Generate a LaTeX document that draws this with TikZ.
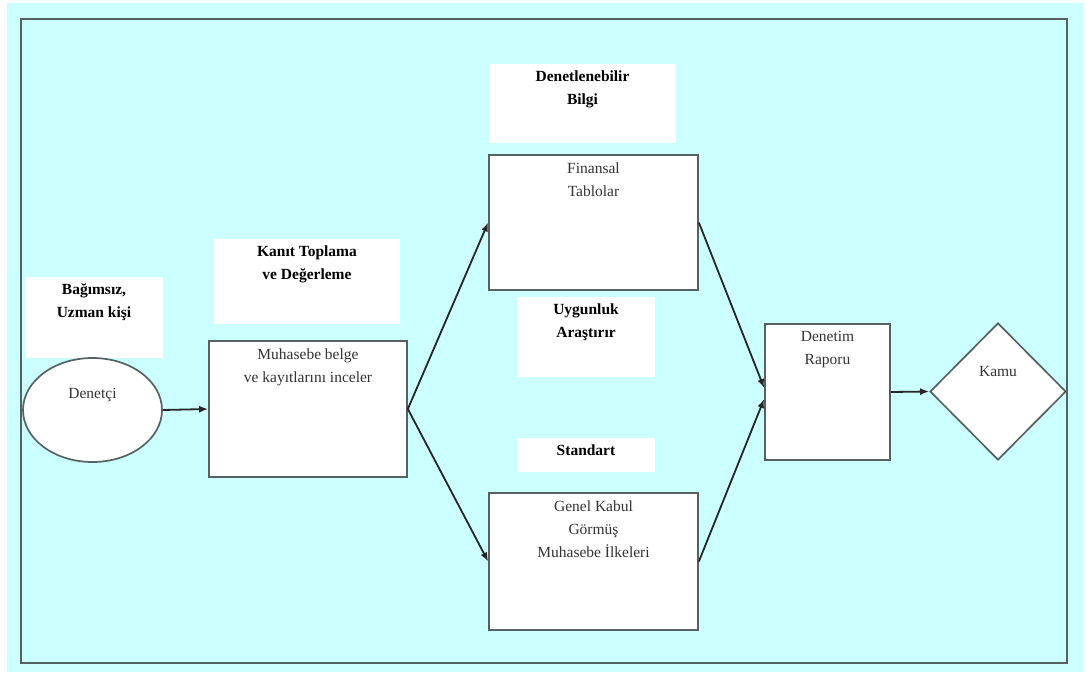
\documentclass[tikz,border=0pt]{standalone}
\usepackage{fontspec}
\setmainfont{Liberation Serif}
\usetikzlibrary{shapes.geometric,arrows.meta,calc}
\definecolor{bgcyan}{HTML}{CCFFFF}
\definecolor{edge}{HTML}{566262}

\begin{document}
\begin{tikzpicture}[x=1pt, y=-1pt,
  txt/.style={font=\fontsize{15.5}{23}\selectfont, align=center},
  proc/.style={rectangle, draw=edge, line width=1.7pt, fill=white, minimum width=#1, inner sep=0pt},
  tag/.style={rectangle, fill=white, minimum width=#1, inner sep=0pt},
  top/.style={label={[txt, text=black!80, anchor=north, inner sep=8pt]north:{#1}}},
  toptag/.style={label={[txt, font=\fontsize{15.5}{23}\selectfont\bfseries, anchor=north, inner sep=7pt]north:{#1}}},
  arr/.style={-{Latex[length=9pt,width=7pt]}, line width=1.8pt, black!85}
]
  \useasboundingbox (0,0) rectangle (1087,675);
  \fill[white] (0,0) rectangle (1087,675);
  \fill[bgcyan] (7,3) rectangle (1083,672);
  \draw[edge, line width=2pt] (21,19) rectangle (1067,663);

  % labels
  \node[tag=138pt, minimum height=81pt, toptag={Bağımsız,\\Uzman kişi}] (bagimsiz) at (94,317.5) {};
  \node[tag=186pt, minimum height=85pt, toptag={Kanıt Toplama\\ve Değerleme}] (kanit) at (307,281.5) {};
  \node[tag=187pt, minimum height=79pt, toptag={Denetlenebilir\\Bilgi}] (bilgi) at (582.5,103.5) {};
  \node[tag=138pt, minimum height=80pt, toptag={Uygunluk\\Araştırır}] (uygunluk) at (586,337) {};
  \node[tag=138pt, minimum height=34pt, toptag={Standart}] (standart) at (586,455) {};

  % process boxes
  \node[ellipse, draw=edge, line width=1.7pt, fill=white, minimum width=139pt, minimum height=104pt, inner sep=0pt,
        label={[txt, text=black!80, yshift=15pt]center:Denetçi}] (denetci) at (92.5,410) {};
  \node[proc=198pt, minimum height=136pt, top={Muhasebe belge\\ve kayıtlarını inceler}] (muhasebe) at (308,409) {};
  \node[proc=209pt, minimum height=135pt, top={Finansal\\Tablolar}] (finansal) at (593.5,222.5) {};
  \node[proc=209pt, minimum height=137pt, top={Genel Kabul\\Görmüş\\Muhasebe İlkeleri}] (genel) at (593.5,561.5) {};
  \node[proc=125pt, minimum height=136pt, top={Denetim\\Raporu}] (rapor) at (827.5,392) {};
  \node[diamond, draw=edge, line width=1.7pt, fill=white, minimum width=136pt, minimum height=137pt, inner sep=0pt,
        label={[txt, text=black!80, yshift=20pt]center:Kamu}] (kamu) at (998,391.5) {};

  % connectors
  \draw[arr] (denetci.east) -- (muhasebe.west);
  \draw[arr] (muhasebe.east) -- (finansal.west);
  \draw[arr] (muhasebe.east) -- (genel.west);
  \draw[arr] (finansal.east) -- ([yshift=4pt]rapor.west);
  \draw[arr] (genel.east) -- ([yshift=-7pt]rapor.west);
  \draw[arr] (rapor.east) -- (kamu.west);
\end{tikzpicture}
\end{document}
